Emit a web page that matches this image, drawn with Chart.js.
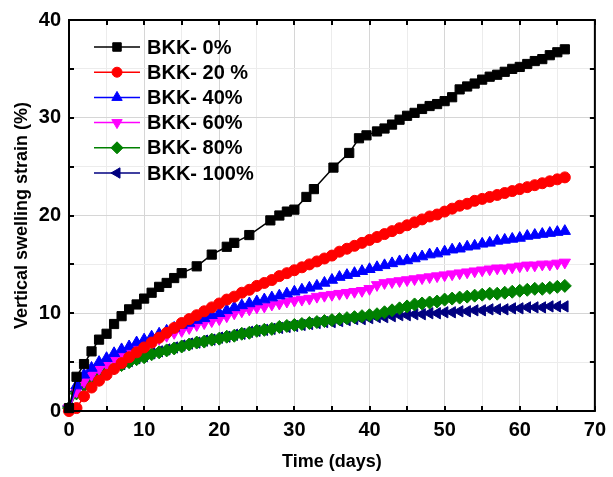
<!DOCTYPE html>
<html>
<head>
<meta charset="utf-8">
<script src="https://cdn.jsdelivr.net/npm/chart.js@4"></script>
<style>
  html, body { margin: 0; padding: 0; background: #fff; }
  #wrap { width: 613px; height: 477px; }
</style>
</head>
<body>
<div id="wrap"><canvas id="myChart" width="613" height="477"></canvas></div>
<script>
// datos
const etiquetas = ['BKK- 0%', 'BKK- 20 %', 'BKK- 40%', 'BKK- 60%', 'BKK- 80%', 'BKK- 100%']

const dias0 = [0,1,2,3,4,5,6,7,8,9,10,11,12,13,14,15,17,19,21,22,24,26.8,28,29,30,31.6,32.6,35.2,37.3,38.6,39.6,41,42,43,44,45,46,47,48,49,50,51,52,53,54,55,56,57,58,59,60,61,62,63,64,65,66]
const bkk0 = [0.3,3.5,4.8,6.1,7.3,7.9,8.9,9.7,10.4,10.9,11.5,12.1,12.7,13.1,13.6,14.1,14.8,16.0,16.8,17.2,18.0,19.5,20.0,20.4,20.6,21.9,22.7,24.9,26.4,27.9,28.2,28.6,28.9,29.3,29.8,30.2,30.5,30.9,31.2,31.4,31.7,32.1,32.9,33.2,33.5,33.9,34.2,34.4,34.7,35.0,35.2,35.5,35.8,36.0,36.4,36.7,37.0]

// el resto de las series tiene un punto por dia (0 a 66)
const dias = [0,1,2,3,4,5,6,7,8,9,10,11,12,13,14,15,16,17,18,19,20,21,22,23,24,25,26,27,28,29,30,31,32,33,34,35,36,37,38,39,40,41,42,43,44,45,46,47,48,49,50,51,52,53,54,55,56,57,58,59,60,61,62,63,64,65,66]
const bkk20 = [0.0,0.3,1.5,2.4,3.1,3.7,4.3,4.9,5.5,6.0,6.5,7.0,7.5,8.0,8.5,9.0,9.4,9.8,10.2,10.6,11.0,11.4,11.7,12.1,12.4,12.8,13.1,13.4,13.8,14.1,14.4,14.7,15.0,15.3,15.6,15.9,16.3,16.6,16.9,17.2,17.5,17.8,18.1,18.4,18.7,19.0,19.3,19.6,19.9,20.1,20.4,20.7,21.0,21.2,21.5,21.7,21.9,22.1,22.3,22.5,22.7,22.9,23.1,23.3,23.5,23.7,23.9]
const bkk40 = [0.3,2.6,3.7,4.4,5.0,5.4,5.9,6.3,6.6,7.0,7.3,7.6,7.9,8.2,8.5,8.8,9.0,9.3,9.5,9.8,10.0,10.3,10.6,10.8,11.0,11.2,11.4,11.6,11.8,12.0,12.2,12.4,12.6,12.8,13.1,13.4,13.7,13.9,14.1,14.3,14.5,14.7,14.9,15.1,15.3,15.4,15.6,15.8,16.0,16.1,16.3,16.5,16.6,16.8,16.9,17.1,17.2,17.4,17.5,17.6,17.7,17.9,18.0,18.1,18.2,18.3,18.4]
const bkk60 = [0.3,2.0,3.0,3.7,4.3,4.8,5.3,5.7,6.1,6.5,6.8,7.1,7.4,7.7,8.0,8.2,8.5,8.8,9.0,9.2,9.4,9.7,10.0,10.2,10.4,10.6,10.7,10.9,11.0,11.2,11.3,11.4,11.5,11.7,11.8,11.9,12.0,12.1,12.2,12.3,12.5,12.9,13.1,13.2,13.3,13.4,13.5,13.6,13.7,13.8,13.9,14.0,14.1,14.2,14.3,14.4,14.5,14.6,14.6,14.7,14.8,14.9,14.9,15.0,15.0,15.1,15.2]
const bkk80 = [0.3,1.8,2.6,3.1,3.6,4.0,4.4,4.7,5.0,5.3,5.5,5.8,6.0,6.2,6.4,6.6,6.8,7.0,7.1,7.3,7.4,7.6,7.7,7.9,8.0,8.2,8.3,8.4,8.6,8.7,8.8,8.9,9.0,9.1,9.2,9.3,9.4,9.5,9.6,9.7,9.8,9.9,10.1,10.3,10.5,10.7,10.9,11.0,11.1,11.2,11.4,11.5,11.6,11.7,11.8,11.9,12.0,12.0,12.1,12.2,12.3,12.4,12.5,12.5,12.6,12.7,12.8]
const bkk100 = [0.5,2.0,2.8,3.3,3.8,4.2,4.5,4.8,5.1,5.4,5.6,5.9,6.1,6.3,6.5,6.7,6.9,7.0,7.2,7.3,7.5,7.6,7.8,7.9,8.1,8.2,8.3,8.4,8.5,8.6,8.7,8.8,8.9,9.0,9.1,9.1,9.2,9.3,9.4,9.4,9.5,9.6,9.6,9.7,9.8,9.8,9.9,9.9,10.0,10.0,10.1,10.1,10.2,10.2,10.3,10.3,10.4,10.4,10.4,10.5,10.5,10.6,10.6,10.6,10.7,10.7,10.7]

const colores = ['#000000', '#ff0000', '#0000ff', '#ff00ff', '#008000', '#000080']
const estilos = ['rect', 'circle', 'triangle', 'triangle', 'rectRot', 'triangle']
const giros = [0, 0, 0, 180, 0, 270]
const radios = [6.5, 5.5, 6.5, 6.5, 6.5, 6.5]

function pares(xs, ys){
    return xs.map((x, i) => ({x: x, y: ys[i]}))
}
const series = [pares(dias0, bkk0), pares(dias, bkk20), pares(dias, bkk40), pares(dias, bkk60), pares(dias, bkk80), pares(dias, bkk100)]

const fuente = "'Liberation Sans', Arial, sans-serif"

// marco y ticks hacia adentro
const marco = {
    id: 'marco',
    afterDatasetsDraw(chart){
        const ctx = chart.ctx
        const a = chart.chartArea
        const sx = chart.scales.x, sy = chart.scales.y
        ctx.save()
        ctx.strokeStyle = '#000'
        ctx.lineWidth = 2
        ctx.strokeRect(a.left, a.top, a.right - a.left, a.bottom - a.top)
        ctx.beginPath()
        for (let v = 0; v <= 70; v += 5){
            const px = Math.round(sx.getPixelForValue(v))
            ctx.moveTo(px, a.bottom); ctx.lineTo(px, a.bottom - 5)
            ctx.moveTo(px, a.top); ctx.lineTo(px, a.top + 5)
        }
        for (let v = 0; v <= 40; v += 5){
            const py = Math.round(sy.getPixelForValue(v))
            ctx.moveTo(a.left, py); ctx.lineTo(a.left + 5, py)
            ctx.moveTo(a.right, py); ctx.lineTo(a.right - 5, py)
        }
        ctx.stroke()
        ctx.restore()
    },
    afterDraw(chart){
        // leyenda dentro del area
        const ctx = chart.ctx
        ctx.save()
        chart.data.datasets.forEach((ds, i) => {
            const y = 47 + i * 25.2
            ctx.strokeStyle = ds.borderColor
            ctx.lineWidth = 1.5
            ctx.beginPath()
            ctx.moveTo(94, y); ctx.lineTo(140, y)
            ctx.stroke()
            ctx.fillStyle = ds.pointBackgroundColor
            ctx.lineWidth = 1
            Chart.helpers.drawPoint(ctx, {pointStyle: ds.pointStyle, rotation: ds.pointRotation, radius: ds.pointRadius - 0.5, borderWidth: 1}, 117, y)
            ctx.fillStyle = '#000'
            ctx.font = 'bold 20px ' + fuente
            ctx.textBaseline = 'middle'
            ctx.fillText(ds.label, 147, y + 1)
        })
        ctx.restore()
    }
}

const ctx = document.getElementById('myChart')
const mychart = new Chart(ctx, {
    type: 'line',
    data: {
        datasets: series.map((d, i) => ({
            label: etiquetas[i],
            data: d,
            borderColor: colores[i],
            backgroundColor: colores[i],
            pointBackgroundColor: colores[i],
            pointBorderColor: colores[i],
            pointStyle: estilos[i],
            pointRotation: giros[i],
            pointRadius: radios[i],
            pointBorderWidth: 1,
            borderWidth: 1.5,
            tension: 0,
            clip: false
        }))
    },
    options: {
        responsive: false,
        animation: false,
        events: [],
        layout: {padding: {left: 5, right: 12, top: 17, bottom: 0}},
        plugins: {legend: {display: false}, tooltip: {enabled: false}},
        scales: {
            x: {
                type: 'linear', min: 0, max: 70,
                afterFit(s){ s.height = 66 },
                grid: {
                    drawTicks: false,
                    color: c => c.tick && c.tick.value % 10 === 0 ? '#d6d6d6' : '#ececec',
                    lineWidth: 1
                },
                border: {display: false},
                ticks: {
                    stepSize: 5, padding: 7, color: '#000',
                    font: {family: fuente, size: 20, weight: 'bold'},
                    maxRotation: 0, autoSkip: false,
                    callback: v => v % 10 === 0 ? v : ''
                },
                title: {
                    display: true, text: 'Time (days)', color: '#000',
                    font: {family: fuente, size: 18, weight: 'bold'},
                    padding: {top: 0, bottom: 4}
                }
            },
            y: {
                min: 0, max: 40,
                afterFit(s){ s.width = 64 },
                grid: {
                    drawTicks: false,
                    color: c => c.tick && c.tick.value % 10 === 0 ? '#d6d6d6' : '#ececec',
                    lineWidth: 1
                },
                border: {display: false},
                ticks: {
                    stepSize: 5, padding: 8, color: '#000',
                    font: {family: fuente, size: 20, weight: 'bold'},
                    autoSkip: false,
                    callback: v => v % 10 === 0 ? v : ''
                },
                title: {
                    display: true, text: 'Vertical swelling strain (%)', color: '#000',
                    font: {family: fuente, size: 18, weight: 'bold'},
                    padding: {top: 6, bottom: 0}
                }
            }
        }
    },
    plugins: [marco]
})
</script>
</body>
</html>
